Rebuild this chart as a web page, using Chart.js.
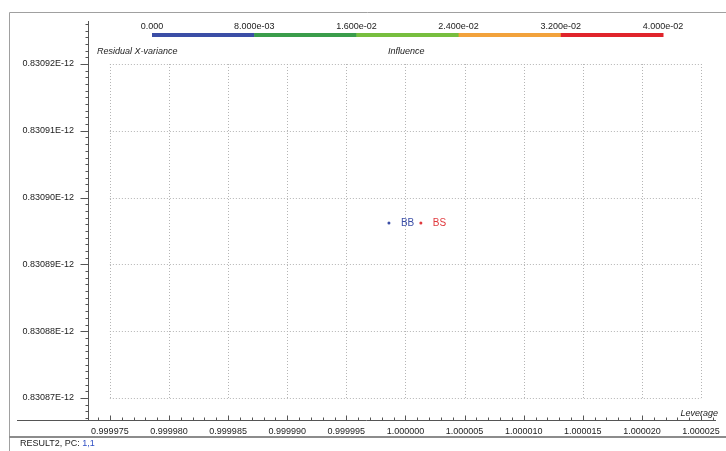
<!DOCTYPE html>
<html>
<head>
<meta charset="utf-8">
<script src="https://cdn.jsdelivr.net/npm/chart.js@4/dist/chart.umd.min.js"></script>
<style>
  html, body { margin: 0; padding: 0; background: #fff; }
  #wrap { width: 726px; height: 451px; position: relative; }
</style>
</head>
<body>
<div id="wrap"><canvas id="c" width="726" height="451"></canvas></div>
<script>
// Influence plot: leverage vs. residual X-variance
const sampleNames = ['BB', 'BS'];
const leverage = [0.9999986, 1.0000013];
const residualXVariance = [0.8308962e-12, 0.8308962e-12];
const sampleColors = ['#3b4ea6', '#e0393d'];

const xTickValues = [0.999975, 0.999980, 0.999985, 0.999990, 0.999995, 1.000000, 1.000005, 1.000010, 1.000015, 1.000020, 1.000025];
const xTickLabels = ['0.999975', '0.999980', '0.999985', '0.999990', '0.999995', '1.000000', '1.000005', '1.000010', '1.000015', '1.000020', '1.000025'];
const yTickValues = [0.83087e-12, 0.83088e-12, 0.83089e-12, 0.83090e-12, 0.83091e-12, 0.83092e-12];
const yTickLabels = ['0.83087E-12', '0.83088E-12', '0.83089E-12', '0.83090E-12', '0.83091E-12', '0.83092E-12'];

// Influence colour scale shown across the top
const influenceStops = [0, 0.008, 0.016, 0.024, 0.032, 0.040];
const influenceLabels = ['0.000', '8.000e-03', '1.600e-02', '2.400e-02', '3.200e-02', '4.000e-02'];
const influenceColors = ['#3b4ea6', '#3a9d4b', '#77be3e', '#f2a23c', '#e0242b'];

const FONT = 'Liberation Sans, Arial, sans-serif';

const decor = {
  id: 'decor',
  beforeDatasetsDraw(chart) {
    const ctx = chart.ctx;
    const xs = chart.scales.x, ys = chart.scales.y;
    const area = chart.chartArea;
    ctx.save();

    // window frame
    ctx.strokeStyle = '#a0a0a0';
    ctx.lineWidth = 1;
    ctx.beginPath();
    ctx.moveTo(9.5, 451); ctx.lineTo(9.5, 12.5); ctx.lineTo(726, 12.5);
    ctx.stroke();
    ctx.strokeStyle = '#8c8c8c';
    ctx.lineWidth = 2;
    ctx.beginPath();
    ctx.moveTo(9, 437); ctx.lineTo(726, 437);
    ctx.stroke();

    // dotted grid box
    const gx0 = xs.getPixelForValue(xTickValues[0]);
    const gx1 = xs.getPixelForValue(xTickValues[xTickValues.length - 1]);
    const gy0 = ys.getPixelForValue(yTickValues[yTickValues.length - 1]);
    const gy1 = ys.getPixelForValue(yTickValues[0]);
    ctx.strokeStyle = '#b4b4b4';
    ctx.lineWidth = 1;
    ctx.setLineDash([1, 2]);
    xTickValues.forEach(v => {
      const px = Math.round(xs.getPixelForValue(v)) + 0.5;
      ctx.beginPath(); ctx.moveTo(px, gy0); ctx.lineTo(px, gy1); ctx.stroke();
    });
    yTickValues.forEach(v => {
      const py = Math.round(ys.getPixelForValue(v)) + 0.5;
      ctx.beginPath(); ctx.moveTo(gx0, py); ctx.lineTo(gx1, py); ctx.stroke();
    });
    ctx.setLineDash([]);

    // axis lines
    ctx.strokeStyle = '#555';
    ctx.lineWidth = 1;
    const axX = Math.round(area.left) + 0.5;
    const axY = Math.round(area.bottom) + 0.5;
    ctx.beginPath(); ctx.moveTo(axX, area.top); ctx.lineTo(axX, area.bottom); ctx.stroke();
    ctx.beginPath(); ctx.moveTo(17, axY); ctx.lineTo(area.right, axY); ctx.stroke();

    // y ticks: majors and ten minors per interval
    const yStep = (yTickValues[1] - yTickValues[0]) / 10;
    for (let k = -10; k <= 60; k++) {
      const v = yTickValues[0] + k * yStep;
      const py = ys.getPixelForValue(v);
      if (py < area.top || py > area.bottom) continue;
      const major = k % 10 === 0;
      const y = Math.round(py) + 0.5;
      ctx.beginPath(); ctx.moveTo(axX - (major ? 8 : 3), y); ctx.lineTo(axX, y); ctx.stroke();
    }
    // x ticks: majors and five minors per interval, pointing up
    const xStep = (xTickValues[1] - xTickValues[0]) / 5;
    for (let k = -5; k <= 55; k++) {
      const v = xTickValues[0] + k * xStep;
      const px = xs.getPixelForValue(v);
      if (px < area.left || px > area.right) continue;
      const major = k % 5 === 0;
      const x = Math.round(px) + 0.5;
      ctx.beginPath(); ctx.moveTo(x, axY); ctx.lineTo(x, axY - (major ? 5 : 3)); ctx.stroke();
    }

    // influence colour bar
    const barL = 152, barR = 663;
    const seg = (barR - barL) / influenceColors.length;
    influenceColors.forEach((c, i) => {
      ctx.fillStyle = c;
      ctx.fillRect(barL + i * seg, 33, seg + 0.5, 4);
    });
    ctx.fillStyle = '#222';
    ctx.font = '9px ' + FONT;
    ctx.textAlign = 'center';
    ctx.textBaseline = 'middle';
    influenceLabels.forEach((t, i) => {
      ctx.fillText(t, barL + i * seg, 27);
    });

    // axis captions
    ctx.font = 'italic 9px ' + FONT;
    ctx.textAlign = 'left';
    ctx.fillText('Residual X-variance', 97, 51);
    ctx.fillText('Influence', 388, 51);
    ctx.textAlign = 'right';
    ctx.fillText('Leverage', 718, 413);

    // footer
    ctx.font = '9px ' + FONT;
    ctx.textAlign = 'left';
    ctx.fillStyle = '#222';
    const pre = 'RESULT2, PC: ';
    ctx.fillText(pre, 20, 444);
    ctx.fillStyle = '#2f4fc4';
    ctx.fillText('1,1', 20 + ctx.measureText(pre).width, 444);

    ctx.restore();
  },
  afterDatasetsDraw(chart) {
    const ctx = chart.ctx;
    const meta = chart.getDatasetMeta(0);
    ctx.save();
    ctx.font = '10px ' + FONT;
    ctx.textAlign = 'left';
    ctx.textBaseline = 'middle';
    meta.data.forEach((pt, i) => {
      ctx.fillStyle = sampleColors[i];
      ctx.fillText(sampleNames[i], pt.x + 12, pt.y);
    });
    ctx.restore();
  }
};

const points = leverage.map((x, i) => ({ x, y: residualXVariance[i] }));

new Chart(document.getElementById('c'), {
  type: 'scatter',
  data: {
    datasets: [{
      data: points,
      pointRadius: 1.5,
      pointBorderWidth: 0,
      pointBackgroundColor: sampleColors,
      pointBorderColor: sampleColors
    }]
  },
  options: {
    responsive: false,
    animation: false,
    devicePixelRatio: 1,
    layout: { padding: { top: 21, right: 6, bottom: 0, left: 0 }, autoPadding: false },
    plugins: { legend: { display: false }, tooltip: { enabled: false } },
    scales: {
      x: {
        type: 'linear',
        min: 0.99997315,
        max: 1.00002626,
        grid: { display: false, drawTicks: false },
        border: { display: false },
        afterBuildTicks(s) { s.ticks = xTickValues.map(v => ({ value: v })); },
        afterFit(s) { s.height = 31; },
        ticks: {
          autoSkip: false, maxRotation: 0, padding: 6, color: '#222',
          font: { family: FONT, size: 9 },
          callback: (v, i) => xTickLabels[i]
        }
      },
      y: {
        type: 'linear',
        min: 0.830866707e-12,
        max: 0.830926437e-12,
        grid: { display: false, drawTicks: false },
        border: { display: false },
        afterBuildTicks(s) { s.ticks = yTickValues.map(v => ({ value: v })); },
        afterFit(s) { s.width = 88; },
        ticks: {
          autoSkip: false, padding: 14, color: '#222',
          font: { family: FONT, size: 9 },
          callback: (v, i) => yTickLabels[i]
        }
      }
    }
  },
  plugins: [decor]
});
</script>
</body>
</html>
